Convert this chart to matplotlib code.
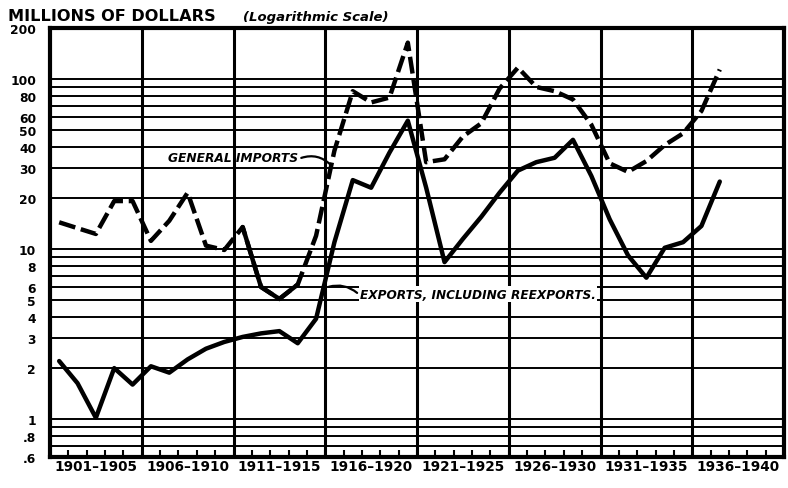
import matplotlib
matplotlib.use("Agg")
import matplotlib.pyplot as plt
from matplotlib.ticker import FixedLocator, NullLocator

# ---- data (millions of dollars) ----
years = list(range(1901, 1938))
imports = [14.4, 13.3, 12.3, 19.2, 19.2, 11.2, 14.7, 21.5, 10.5, 9.9,
           13.5, 6.0, 5.1, 6.2, 12.0, 38, 85, 73, 78, 164,
           32.5, 33.8, 46, 55, 88, 117, 90, 85, 76, 54,
           32, 28.5, 33, 41, 48, 65, 114]
exports = [2.2, 1.63, 1.02, 2.0, 1.6, 2.05, 1.88, 2.25, 2.6, 2.85,
           3.05, 3.2, 3.3, 2.8, 3.9, 11, 25.5, 23, 37, 57,
           23, 8.4, 11.5, 15.5, 21.5, 29, 32.5, 34.5, 44, 27,
           15, 9.2, 6.8, 10.2, 11, 13.7, 25]

ytick_vals = [200, 100, 80, 60, 50, 40, 30, 20, 10, 8, 6, 5, 4, 3, 2, 1, 0.8, 0.6]
ytick_labels = ['200', '100', '80', '60', '50', '40', '30', '20', '10',
                '8', '6', '5', '4', '3', '2', '1', '.8', '.6']
period_labels = ['1901–1905', '1906–1910', '1911–1915', '1916–1920',
                 '1921–1925', '1926–1930', '1931–1935', '1936–1940']
period_centers = [1903, 1908, 1913, 1918, 1923, 1928, 1933, 1938]

grid_vals = [0.7, 0.8, 0.9, 1, 2, 3, 4, 5, 6, 7, 8, 9,
             10, 20, 30, 40, 50, 60, 70, 80, 90, 100]
section_edges = [1905.5, 1910.5, 1915.5, 1920.5, 1925.5, 1930.5, 1935.5]
year_edges = [y + 0.5 for y in range(1901, 1940)]

W, H = 788, 489
fig = plt.figure(figsize=(W / 100, H / 100), dpi=100)
ax = fig.add_axes([50 / W, 31 / H, 734 / W, 429 / H])
ax.set_yscale('log')
ax.set_ylim(0.6, 200)
ax.set_xlim(1900.5, 1940.5)

for v in grid_vals:
    ax.axhline(v, color='black', lw=1.4, zorder=1)
for x in section_edges:
    ax.axvline(x, color='black', lw=2.2, zorder=1)

ax.plot(years, exports, color='black', lw=3.2, solid_joinstyle='round',
        solid_capstyle='round', zorder=3)
ax.plot(years, imports, color='black', lw=3.2, dashes=(3.8, 1.3),
        dash_joinstyle='round', zorder=3)
ax.plot(years[10:14], imports[10:14], color='black', lw=3.2,
        solid_joinstyle='round', solid_capstyle='round', zorder=3)

for s in ax.spines.values():
    s.set_linewidth(3.0)

ax.yaxis.set_major_locator(FixedLocator(ytick_vals))
ax.yaxis.set_minor_locator(NullLocator())
ax.set_yticklabels(ytick_labels)
ax.tick_params(axis='y', length=0, pad=10, labelsize=8.8)

ax.set_xticks(period_centers)
ax.set_xticklabels(period_labels)
ax.set_xticks(year_edges, minor=True)
ax.tick_params(axis='x', which='major', length=0, pad=1.5, labelsize=9.8)
ax.tick_params(axis='x', which='minor', direction='in', length=5, width=1.5)
for lbl in ax.get_yticklabels() + ax.get_xticklabels():
    lbl.set_fontweight('bold')

# titles
fig.text(8 / W, 1 - 21 / H, 'MILLIONS OF DOLLARS', fontsize=11.6,
         fontweight='bold', va='baseline', ha='left')
fig.text(243 / W, 1 - 21 / H, '(Logarithmic Scale)', fontsize=9.5,
         fontweight='bold', style='italic', va='baseline', ha='left')

# annotations
ax.text(1914.0, 34.5, 'GENERAL IMPORTS', fontsize=8.8, fontweight='bold',
        style='italic', ha='right', va='center', zorder=4)
ax.annotate('', xy=(1915.9, 30.5), xytext=(1914.05, 34.0),
            arrowprops=dict(arrowstyle='-', lw=1.6, color='black',
                            connectionstyle='arc3,rad=-0.35'), zorder=4)

ax.text(1917.4, 5.45, 'EXPORTS, INCLUDING REEXPORTS.', fontsize=8.7,
        fontweight='bold', style='italic', ha='left', va='center', zorder=4,
        bbox=dict(boxstyle='square,pad=0.12', fc='white', ec='none'))
ax.annotate('', xy=(1915.55, 5.95), xytext=(1917.35, 5.4),
            arrowprops=dict(arrowstyle='-', lw=1.6, color='black',
                            connectionstyle='arc3,rad=0.3'), zorder=4)

fig.savefig('out.png', dpi=100)
